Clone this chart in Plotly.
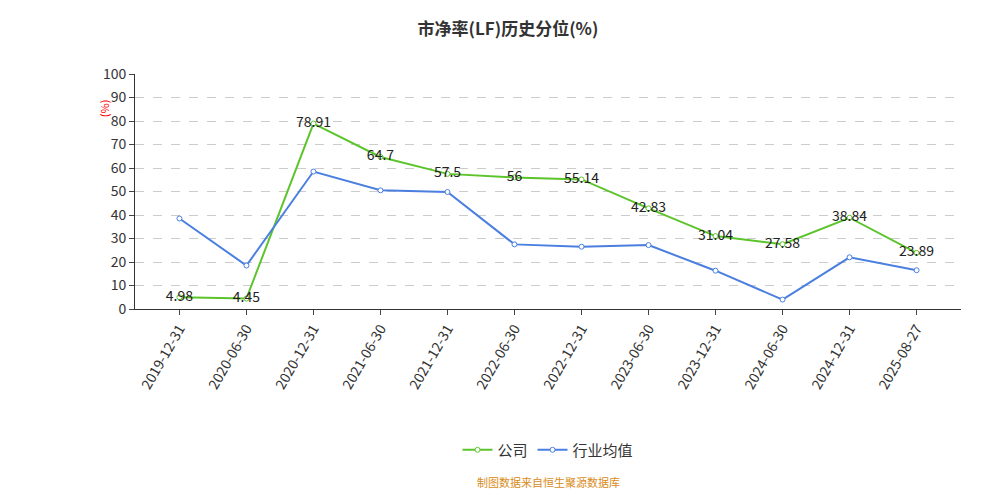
import plotly.graph_objects as go

dates = ["2019-12-31","2020-06-30","2020-12-31","2021-06-30","2021-12-31","2022-06-30",
         "2022-12-31","2023-06-30","2023-12-31","2024-06-30","2024-12-31","2025-08-27"]
company = [4.98,4.45,78.91,64.7,57.5,56,55.14,42.83,31.04,27.58,38.84,23.89]
industry = [38.5,18.5,58.5,50.5,49.8,27.5,26.5,27.2,16.3,4.0,22.0,16.5]
labels = ["4.98","4.45","78.91","64.7","57.5","56","55.14","42.83","31.04","27.58","38.84","23.89"]

fig = go.Figure()
fig.add_trace(go.Scatter(x=dates, y=company, name="公司", mode="lines+markers+text",
    text=labels, textposition="middle center", textfont=dict(size=14, color="#222"),
    line=dict(color="#5cc42b", width=2),
    marker=dict(symbol="circle", size=5, color="white", line=dict(color="#5cc42b", width=1))))
fig.add_trace(go.Scatter(x=dates, y=industry, name="行业均值", mode="lines+markers",
    line=dict(color="#4a7fe0", width=2),
    marker=dict(symbol="circle", size=5, color="white", line=dict(color="#4a7fe0", width=1))))

fig.update_layout(
    width=1000, height=500, plot_bgcolor="white", paper_bgcolor="white",
    font=dict(family="Noto Sans CJK SC, sans-serif", color="#333"),
    title=dict(text="<b>市净率(LF)历史分位(%)</b>", x=0.5, y=0.97, font=dict(size=17)),
    margin=dict(l=127, r=47, t=66, b=199),
    legend=dict(orientation="h", x=0.5, xanchor="center", y=-0.53, font=dict(size=15)),
    annotations=[
        dict(text="(%)", xref="paper", yref="paper", x=-0.05, y=0.9, textangle=-90,
             showarrow=False, font=dict(color="red", size=11)),
        dict(text="制图数据来自恒生聚源数据库", xref="paper", yref="paper", x=0.5, y=-0.78,
             showarrow=False, font=dict(color="#d98c1a", size=11)),
    ],
)
fig.update_xaxes(type="category", showline=True, linecolor="#333", ticks="outside",
                 tickangle=-60, tickfont=dict(size=14), showgrid=False)
fig.update_yaxes(range=[0,100], dtick=10, showline=True, linecolor="#333", ticks="outside",
                 gridcolor="#ccc", griddash="dash", tickfont=dict(size=14), zeroline=False)
fig.write_html("out.html")
